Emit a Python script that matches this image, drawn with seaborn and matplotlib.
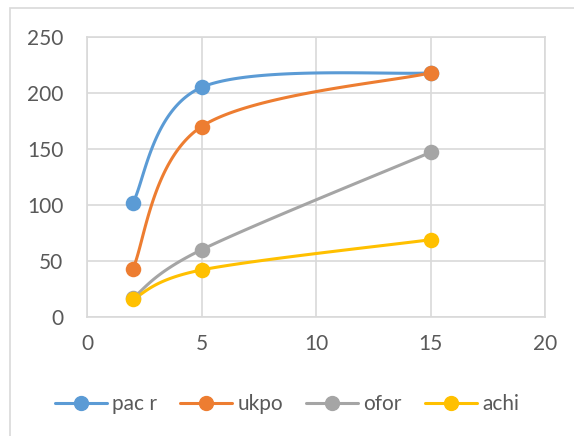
import numpy as np
import matplotlib
matplotlib.use("Agg")
import matplotlib.pyplot as plt
import seaborn as sns
from matplotlib.lines import Line2D
from matplotlib.patches import Rectangle

x_vals = [2, 5, 15]
pac_r = [102, 205, 218]
ukpo = [43, 170, 218]
ofor = [17, 60, 147]
achi = [16, 42, 69]
series_names = ["pac r", "ukpo", "ofor", "achi"]
colors = ["#5B9BD5", "#ED7D31", "#A5A5A5", "#FFC000"]
x_ticks = [0, 5, 10, 15, 20]
y_ticks = [0, 50, 100, 150, 200, 250]

sns.set_theme(style="white")
plt.rcParams['font.family'] = ['Lato', 'DejaVu Sans']


def excel_smooth(xs, ys, n=60):
    xs = np.asarray(xs, float); ys = np.asarray(ys, float)
    P = np.column_stack([xs, ys])
    out = []
    for i in range(len(P) - 1):
        p0 = P[i - 1] if i > 0 else P[i]
        p1 = P[i]; p2 = P[i + 1]
        p3 = P[i + 2] if i + 2 < len(P) else P[i + 1]
        c1 = p1 + (p2 - p0) / 6.0
        c2 = p2 - (p3 - p1) / 6.0
        t = np.linspace(0, 1, n)[:, None]
        seg = ((1 - t) ** 3) * p1 + 3 * ((1 - t) ** 2) * t * c1 + 3 * (1 - t) * t ** 2 * c2 + t ** 3 * p2
        out.append(seg if i == 0 else seg[1:])
    s = np.vstack(out)
    return s[:, 0], s[:, 1]


fig = plt.figure(figsize=(5.74, 4.36), dpi=100)
ax = fig.add_axes([87 / 574, 1 - 317 / 436, (545 - 87) / 574, (317 - 37) / 436])

data = [pac_r, ukpo, ofor, achi]
for name, ys, c in zip(series_names, data, colors):
    sx, sy = excel_smooth(x_vals, ys)
    sns.lineplot(x=sx, y=sy, ax=ax, color=c, lw=2.2, sort=False, estimator=None, zorder=3)
    sns.scatterplot(x=x_vals, y=ys, ax=ax, color=c, s=125, edgecolor=c, linewidth=0, zorder=4)

ax.set_xlim(0, 20)
ax.set_ylim(0, 250)
ax.set_xticks(x_ticks)
ax.set_yticks(y_ticks)
ax.grid(True, color="#d9d9d9", lw=1.2)
ax.set_axisbelow(True)
for sp in ax.spines.values():
    sp.set_color("#d9d9d9")
    sp.set_linewidth(1.2)
ax.tick_params(axis='both', length=0, labelsize=15, labelcolor="#595959")
ax.tick_params(axis='x', pad=12)
ax.tick_params(axis='y', pad=17)

handles = [Line2D([0], [0], color=c, lw=2.2, marker='o', markersize=10) for c in colors]
fig.legend(handles, series_names, loc='center', bbox_to_anchor=(0.5, 1 - 404 / 436),
           ncol=4, frameon=False, fontsize=15, labelcolor="#595959",
           handlelength=2.5, handletextpad=0.25, columnspacing=1.1)

fig.patches.append(Rectangle((10 / 574, -0.1), 1.2, 1.1 - 8 / 436,
                             transform=fig.transFigure, fill=False,
                             edgecolor="#d9d9d9", lw=1.2))

fig.savefig("out.png", dpi=100)
